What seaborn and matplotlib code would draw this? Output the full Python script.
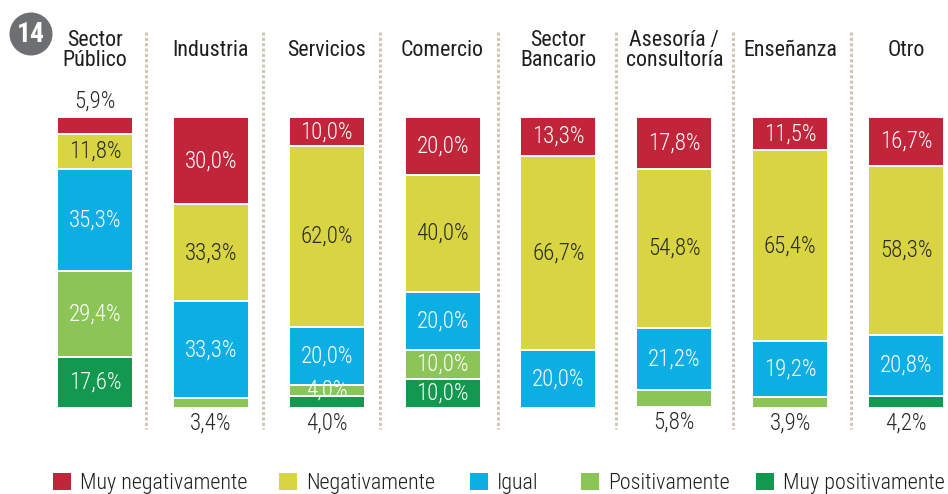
import numpy as np
import pandas as pd
import matplotlib
matplotlib.use("Agg")
import matplotlib.pyplot as plt
import seaborn as sns
from matplotlib.patches import Circle, Rectangle

# --- data -------------------------------------------------------------
sectores = ["Sector\nPúblico", "Industria", "Servicios", "Comercio",
            "Sector\nBancario", "Asesoría /\nconsultoría", "Enseñanza", "Otro"]
respuestas = ["Muy negativamente", "Negativamente", "Igual",
              "Positivamente", "Muy positivamente"]
muy_negativamente = [5.9, 30.0, 10.0, 20.0, 13.3, 17.8, 11.5, 16.7]
negativamente = [11.8, 33.3, 62.0, 40.0, 66.7, 54.8, 65.4, 58.3]
igual = [35.3, 33.3, 20.0, 20.0, 20.0, 21.2, 19.2, 20.8]
positivamente = [29.4, 3.4, 4.0, 10.0, 0.0, 5.8, 3.9, 0.0]
muy_positivamente = [17.6, 0.0, 4.0, 10.0, 0.0, 0.0, 0.0, 4.2]
numero_grafico = "14"

series = [muy_negativamente, negativamente, igual, positivamente, muy_positivamente]
colores = ["#C1253A", "#D9D542", "#0DAEE4", "#8BC557", "#13994F"]
texto_oscuro = "#2A2A2A"

# --- style --------------------------------------------------------------
sns.set_theme(style="white")
plt.rcParams["font.family"] = ["Roboto Condensed", "DejaVu Sans"]

W, H = 948, 494
fig = plt.figure(figsize=(W / 100, H / 100), dpi=100)
top_px, bot_px = 117, 408
ax = fig.add_axes([0, 1 - bot_px / H, 1, (bot_px - top_px) / H])

df = pd.DataFrame({"sector": sectores})
acum = np.zeros(len(sectores))
for nombre, vals, col in zip(respuestas, series, colores):
    df[nombre] = vals
    sns.barplot(data=df, x="sector", y=nombre, order=sectores, bottom=acum,
                color=col, width=0.655, edgecolor="white", linewidth=1.4,
                saturation=1, ax=ax)
    acum = acum + np.asarray(vals)

ax.set_ylim(100, 0)
paso = 115.86
ax.set_xlim(-95 / paso, (W - 95) / paso)
ax.axis("off")

px = 100 / (bot_px - top_px)  # data units per pixel (vertical)


def fmt(v):
    return f"{v:.1f}%".replace(".", ",")


# value labels
tam = 16.5
for i in range(len(sectores)):
    vals = [s[i] for s in series]
    nz = [k for k, v in enumerate(vals) if v > 0]
    base = 0.0
    for k, v in enumerate(vals):
        if v <= 0:
            continue
        if v < 7 and k == nz[0]:
            ax.text(i, -(16 * px), fmt(v), ha="center", va="center",
                    fontsize=tam, fontweight="light", color=texto_oscuro,
                    clip_on=False)
        elif v < 7 and k == nz[-1]:
            ax.text(i, base + v + 15 * px, fmt(v), ha="center", va="center",
                    fontsize=tam, fontweight="light", color=texto_oscuro,
                    clip_on=False)
        else:
            c = texto_oscuro if k == 1 else "white"
            ax.text(i, base + v / 2, fmt(v), ha="center", va="center",
                    fontsize=tam, fontweight="light", color=c, clip_on=False)
        base += v

# sector headings
for i, s in enumerate(sectores):
    ax.text(i, (50.5 - top_px) * px, s, ha="center", va="center", fontsize=15.8,
            color="#1E1E1E", linespacing=0.97, clip_on=False)

# dotted separators between sectors
sep_px = [146, 263, 380, 498, 616, 733, 851]
for sp in sep_px:
    xs = (sp - 95) / paso
    ax.plot([xs, xs], [(32 - top_px) * px, (429 - top_px) * px],
            color="#CEC6B6", linewidth=2.2, linestyle=(0, (1, 0.75)),
            dash_capstyle="butt", clip_on=False)

# chart number badge
fig.add_artist(Circle((31, H - 34), 21.5, transform=None,
                      facecolor="#6E6F71", edgecolor="none"))
fig.text(31 / W, 1 - 35 / H, numero_grafico, ha="center", va="center",
         color="white", fontsize=20, fontweight="bold")

# legend
ley_x = [53, 279, 470, 581, 756]
for x0, nombre, col in zip(ley_x, respuestas, colores):
    fig.add_artist(Rectangle((x0, H - 490), 18, 17, transform=None,
                             facecolor=col, edgecolor="none"))
    fig.text((x0 + 27) / W, 1 - 483 / H, nombre, ha="left", va="center",
             fontsize=15.8, fontweight="light", color="#1E1E1E")

fig.savefig("out.png", dpi=100)
